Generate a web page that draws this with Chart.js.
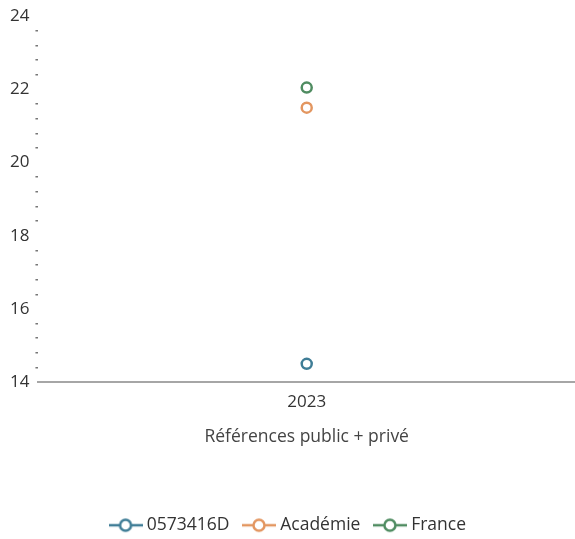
<!DOCTYPE html>
<html>
<head>
<meta charset="utf-8">
<script src="https://cdn.jsdelivr.net/npm/chart.js@4/dist/chart.umd.min.js"></script>
<style>
  html, body { margin: 0; padding: 0; background: #fff; }
  #box { width: 575px; height: 539px; }
</style>
</head>
<body>
<div id="box"><canvas id="graphique"></canvas></div>
<script>
// données
const annees = ['2023'];
const serie_etab = [14.5];
const serie_academie = [21.5];
const serie_france = [22.05];
const noms = ['0573416D', 'Académie', 'France'];
const couleurs = ['#3f7d96', '#e39660', '#4f8c61'];

// petite image "ligne + cercle" pour la légende
function symbole(couleur) {
  const c = document.createElement('canvas');
  c.width = 34; c.height = 16;
  const g = c.getContext('2d');
  g.strokeStyle = couleur;
  g.lineWidth = 2.5;
  g.beginPath(); g.moveTo(0, 8); g.lineTo(34, 8); g.stroke();
  g.fillStyle = '#fff';
  g.beginPath(); g.arc(17, 8, 5.5, 0, Math.PI * 2); g.fill(); g.stroke();
  return c;
}

const series = [serie_etab, serie_academie, serie_france];
const datasets = series.map((s, i) => ({
  label: noms[i],
  data: s,
  borderColor: couleurs[i],
  backgroundColor: '#fff',
  pointRadius: 5,
  pointHoverRadius: 5,
  pointBorderWidth: 2.5,
  showLine: false
}));

const police = { family: 'Open Sans', size: 17 };

new Chart(document.getElementById('graphique'), {
  type: 'line',
  data: { labels: annees, datasets: datasets },
  options: {
    responsive: true,
    maintainAspectRatio: false,
    animation: false,
    layout: { autoPadding: false, padding: { top: 13, right: 0, left: 4, bottom: -5 } },
    plugins: {
      tooltip: { enabled: false },
      legend: {
        position: 'bottom',
        labels: {
          usePointStyle: true,
          pointStyleWidth: 25,
          color: '#333',
          font: { family: 'Open Sans', size: 17.5 },
          padding: 17,
          generateLabels(chart) {
            return chart.data.datasets.map((d, i) => ({
              text: d.label,
              pointStyle: symbole(couleurs[i]),
              fontColor: '#333',
              datasetIndex: i,
              hidden: false,
              lineWidth: 0,
              strokeStyle: 'transparent',
              fillStyle: 'transparent'
            }));
          }
        }
      }
    },
    scales: {
      x: {
        offset: true,
        grid: { display: false },
        border: { display: true, color: '#a6a6a6', width: 2 },
        ticks: { color: '#333', font: police, padding: 2 },
        title: {
          display: true,
          text: 'Références public + privé',
          color: '#444',
          font: { family: 'Open Sans', size: 17.5 },
          padding: { top: 12, bottom: 52 }
        }
      },
      y: {
        min: 14,
        max: 24,
        border: { display: false },
        grid: {
          drawOnChartArea: false,
          drawTicks: true,
          tickLength: 3,
          lineWidth: 1.5,
          color: (ctx) => {
            const v = ctx.tick ? ctx.tick.value : 0;
            return Math.abs(v / 2 - Math.round(v / 2)) < 0.01 ? 'rgba(0,0,0,0)' : '#777';
          }
        },
        ticks: {
          stepSize: 0.4,
          autoSkip: false,
          padding: 6,
          color: '#333',
          font: police,
          callback: (v) => Math.abs(v / 2 - Math.round(v / 2)) < 0.01 ? Math.round(v) : ''
        }
      }
    }
  }
});
</script>
</body>
</html>
